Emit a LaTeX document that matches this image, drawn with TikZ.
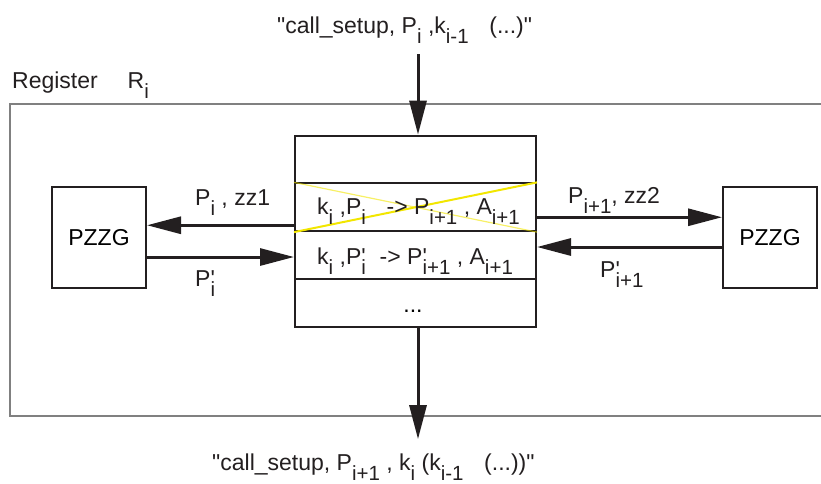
\documentclass[tikz,border=0pt]{standalone}
\usepackage{fontspec}
% plain family, no TeX quote mapping: keeps " and ' straight
\newfontfamily\plainsans{Liberation Sans}
\usetikzlibrary{arrows.meta}
\definecolor{ink}{HTML}{231F20}
\definecolor{strike}{HTML}{F2E600}
% lowered index, as in the old drawing tool
\newcommand{\subidx}[1]{\raisebox{-10pt}{\fontsize{20.5}{22}\selectfont #1}}
% primed P with its index under the tick
\newcommand{\Pprime}[1]{P\rlap{'}\subidx{#1}}
\begin{document}
\begin{tikzpicture}[x=1pt, y=-1pt, >={Triangle[length=34pt,width=17pt]},
    font=\plainsans\fontsize{23}{27}\selectfont,
    flow/.style={->, line width=3pt, draw=ink},
    frame/.style={line width=1.5pt, draw=gray},
    zzg/.style={draw=ink, line width=2pt, minimum width=94pt, minimum height=101pt, inner sep=0pt},
    row/.style={draw=ink, line width=2pt, minimum width=241pt, minimum height=47.75pt, inner sep=0pt},
    lbl/.style={anchor=base west, inner sep=0pt, text=ink}]
    \useasboundingbox (0,0) rectangle (821,483);
    % register frame, runs off to the right
    \draw[frame] (821,104) -- (10,104) -- (10,416) -- (821,416);
    \node[lbl] (reg) at (12,88) {Register\hspace{1.3em}R\subidx{i}};
    % table of entries
    \node[row] (r1) at (415.5,159.5) {};
    \node[row] (r2) at (415.5,207.25) {};
    \node[row] (r3) at (415.5,255) {};
    \node[row] (r4) at (415.5,302.75) {};
    \draw[strike, line width=1.2pt, opacity=0.6] (r2.north west) -- (r2.south east);
    \draw[strike, line width=2pt] (r2.south west) -- (r2.north east);
    \node[lbl] (t2) at ([xshift=23pt, yshift=-7pt]r2.west) {k\subidx{i} ,P\subidx{i}\hspace{0.9em}-> P\subidx{i+1} , A\subidx{i+1}};
    \node[lbl] (t3) at ([xshift=23pt, yshift=-9pt]r3.west) {k\subidx{i} ,\Pprime{i}\hspace{0.6em}-> \Pprime{i+1} , A\subidx{i+1}};
    \node[anchor=base, inner sep=0pt] (t4) at ([xshift=-2.5pt, yshift=-10pt]r4.center) {...};
    % generators on both sides
    \node[zzg] (lzg) at (99,237.5) {PZZG};
    \node[zzg] (rzg) at (770,237.5) {PZZG};
    \coordinate (lout) at ([yshift=-18pt]r2.west);
    \coordinate (lin) at ([yshift=-2pt]r3.west);
    \coordinate (rout) at ([yshift=-10pt]r2.east);
    \coordinate (rin) at ([yshift=8pt]r3.east);
    \draw[flow] (lout) -- (lout -| lzg.east);
    \draw[flow] (lin -| lzg.east) -- (lin);
    \draw[flow] (rout) -- (rout -| rzg.west);
    \draw[flow] (rin -| rzg.west) -- (rin);
    \node[lbl] at (195,205) {P\subidx{i} , zz1};
    \node[lbl] at (195,286) {\Pprime{i}};
    \node[lbl] at (568,203) {P\subidx{i+1}, zz2};
    \node[lbl] at (600,277) {\Pprime{i+1}};
    % message in and out
    \node[lbl] (callin) at (277,33) {"call\_setup, P\subidx{i} ,k\subidx{i-1}\hspace{0.9em}(...)"};
    \node[lbl] (callout) at (212,470) {"call\_setup, P\subidx{i+1} , k\subidx{i} (k\subidx{i-1}\hspace{0.9em}(...))"};
    \coordinate (tin) at ([xshift=2.5pt]r1.north);
    \coordinate (tout) at ([xshift=2.5pt]r4.south);
    \draw[flow, shorten <=11pt] (tin |- callin.south) -- (tin);
    \draw[flow, shorten >=14pt] (tout) -- (tout |- callout.north);
\end{tikzpicture}
\end{document}
